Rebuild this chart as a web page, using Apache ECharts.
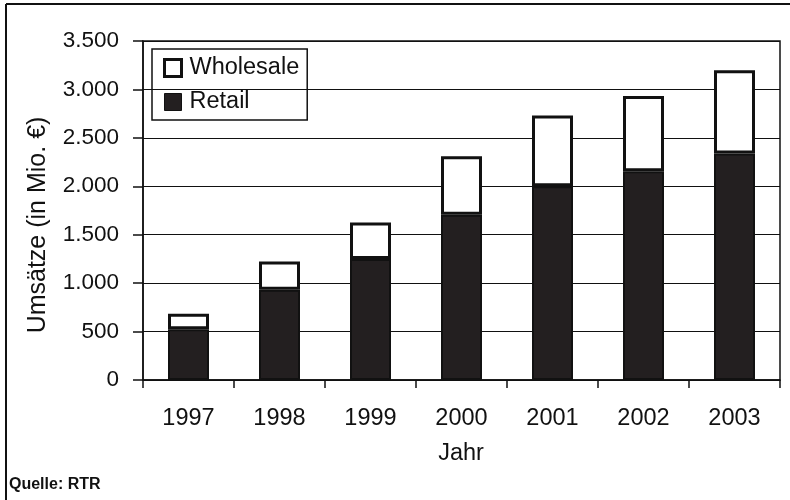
<!DOCTYPE html>
<html>
<head>
<meta charset="utf-8">
<script src="https://cdn.jsdelivr.net/npm/echarts@6/dist/echarts.min.js"></script>
<style>html,body{margin:0;padding:0;background:#fff;}#c{width:790px;height:500px;}</style>
</head>
<body>
<div id="c"></div>
<script>
const years = ['1997','1998','1999','2000','2001','2002','2003'];
const retail = [525, 931, 1249, 1707, 2000, 2155, 2338];
const wholesale = [158, 293, 378, 603, 731, 776, 859];
const yTicks = [0, 500, 1000, 1500, 2000, 2500, 3000, 3500];

const font = "'Liberation Sans', Arial, sans-serif";
const chart = echarts.init(document.getElementById('c'), null, {renderer: 'canvas'});
chart.setOption({
  animation: false,
  backgroundColor: '#fff',
  grid: {left: 143, right: 10, top: 41, bottom: 120, show: true, borderColor: '#111', borderWidth: 1.5, backgroundColor: 'transparent'},
  legend: {
    orient: 'vertical', left: 152, top: 49,
    data: [
      {name: 'Wholesale', itemStyle: {color: '#fff', borderColor: '#111', borderWidth: 3}},
      {name: 'Retail', itemStyle: {color: '#231f20', borderColor: '#111', borderWidth: 1}}
    ],
    icon: 'rect',
    borderColor: '#111', borderWidth: 1.5, padding: [7, 8, 6, 11],
    itemWidth: 17, itemHeight: 17, itemGap: 10,
    textStyle: {fontFamily: font, fontSize: 23.5, color: '#111', padding: [0, 0, 0, 3]},
    selectedMode: false
  },
  xAxis: {
    type: 'category', data: years,
    axisLine: {lineStyle: {color: '#111', width: 1.5}},
    axisTick: {show: true, length: 8, lineStyle: {color: '#111', width: 1.5}},
    axisLabel: {fontFamily: font, fontSize: 23.5, color: '#111', margin: 27}
  },
  yAxis: {
    type: 'value', min: yTicks[0], max: yTicks[yTicks.length - 1], interval: 500,
    axisLine: {show: true, lineStyle: {color: '#111', width: 1.5}},
    axisTick: {show: true, length: 10, lineStyle: {color: '#111', width: 1.5}},
    axisLabel: {fontFamily: font, fontSize: 22.5, color: '#111', margin: 24,
      formatter: v => String(v).replace(/\B(?=(\d{3})+(?!\d))/g, '.')},
    splitLine: {show: true, lineStyle: {color: '#111', width: 1.2}}
  },
  series: [
    {name: 'Retail', type: 'bar', stack: 'a', data: retail, barWidth: 41,
      itemStyle: {color: '#231f20', borderColor: '#111', borderWidth: 2}},
    {name: 'Wholesale', type: 'bar', stack: 'a', data: wholesale, barWidth: 41,
      itemStyle: {color: '#fff', borderColor: '#111', borderWidth: 3}}
  ],
  graphic: [
    {type: 'line', shape: {x1: 6, y1: 4, x2: 790, y2: 4}, style: {stroke: '#111', lineWidth: 2}},
    {type: 'line', shape: {x1: 6, y1: 4, x2: 6, y2: 500}, style: {stroke: '#111', lineWidth: 2}},
    {type: 'text', x: 38, y: 225, rotation: Math.PI / 2,
      style: {text: 'Umsätze (in Mio. €)', fontFamily: font, fontSize: 25, fill: '#111', align: 'center', verticalAlign: 'middle'}},
    {type: 'text', x: 461, y: 454,
      style: {text: 'Jahr', fontFamily: font, fontSize: 23.5, fill: '#111', align: 'center', verticalAlign: 'middle'}},
    {type: 'text', x: 9, y: 485,
      style: {text: 'Quelle: RTR', fontFamily: font, fontSize: 16, fontWeight: 'bold', fill: '#111', align: 'left', verticalAlign: 'middle'}}
  ]
});
</script>
</body>
</html>
